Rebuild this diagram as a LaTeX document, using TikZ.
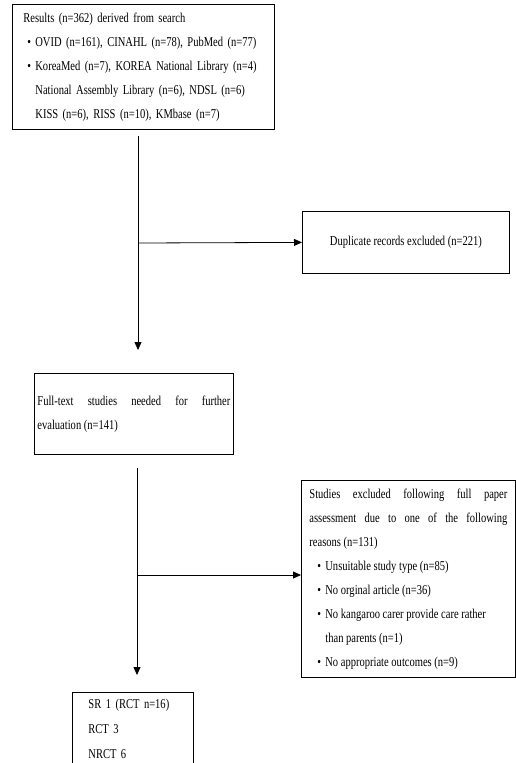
\documentclass[tikz,border=0pt]{standalone}
\usepackage{fontspec}
\setmainfont{Liberation Serif}[FakeStretch=0.78]
\usepackage{tikz}
\usetikzlibrary{arrows.meta}
\tikzset{
  box/.style={draw, line width=0.8pt, anchor=north west, inner ysep=7pt,
    font=\fontsize{13.5}{24}\selectfont},
  arr/.style={line width=0.8pt, -{Stealth[length=8pt,width=7pt,inset=0pt]}}
}
\newcommand{\bul}[1]{\hspace*{#1}\makebox[8pt][l]{\textbullet}}

\begin{document}
\begin{tikzpicture}[x=1pt, y=-1pt]
                \useasboundingbox (0,0) rectangle (516,763);
                \clip (0,0) rectangle (516,763);

                % 1. Boxes
                \node[box, align=left, text width=240pt, inner xsep=11pt, minimum height=125pt] (res) at (12,4)
                    {Results (n=362) derived from search\\
                     \bul{4pt}OVID (n=161), CINAHL (n=78), PubMed (n=77)\\
                     \bul{4pt}KoreaMed (n=7), KOREA National Library (n=4)\\
                     \hspace*{12pt}National Assembly Library (n=6), NDSL (n=6)\\
                     \hspace*{12pt}KISS (n=6), RISS (n=10), KMbase (n=7)};
                \node[box, minimum width=207pt, minimum height=62pt] (dup) at (302,211)
                    {Duplicate records excluded (n=221)};
                \node[box, align=justify, text width=193pt, inner xsep=3pt, minimum height=81pt] (full) at (34,373)
                    {Full-text studies needed for further\linebreak evaluation (n=141)};
                \node[box, align=justify, text width=198pt, inner xsep=8pt, minimum height=197pt] (excl) at (301,480)
                    {Studies excluded following full paper\linebreak
                     assessment due to one of the following\linebreak
                     reasons (n=131)\\
                     \bul{8pt}Unsuitable study type (n=85)\\
                     \bul{8pt}No orginal article (n=36)\\
                     \bul{8pt}No kangaroo carer provide care rather\\
                     \hspace*{16pt}than parents (n=1)\\
                     \bul{8pt}No appropriate outcomes (n=9)};
                \node[box, align=left, text width=89pt, inner xsep=16pt,
                      font=\fontsize{13.5}{25}\selectfont] (incl) at (72,692)
                    {SR 1 (RCT n=16)\\ RCT 3\\ NRCT 6\\ \strut};

                % 2. Arrows
                \coordinate (j1) at (138,243);
                \coordinate (j2) at (137,575);
                \draw[arr, shorten <=6pt, shorten >=23pt] (res.south -| j1) -- (full.north -| j1);
                \draw[arr] (j1) -- (dup.west);
                \draw[arr, shorten <=13pt, shorten >=17pt] (full.south -| j2) -- (incl.north -| j2);
                \draw[arr] (j2) -- (excl.west |- j2);
            \end{tikzpicture}
\end{document}
